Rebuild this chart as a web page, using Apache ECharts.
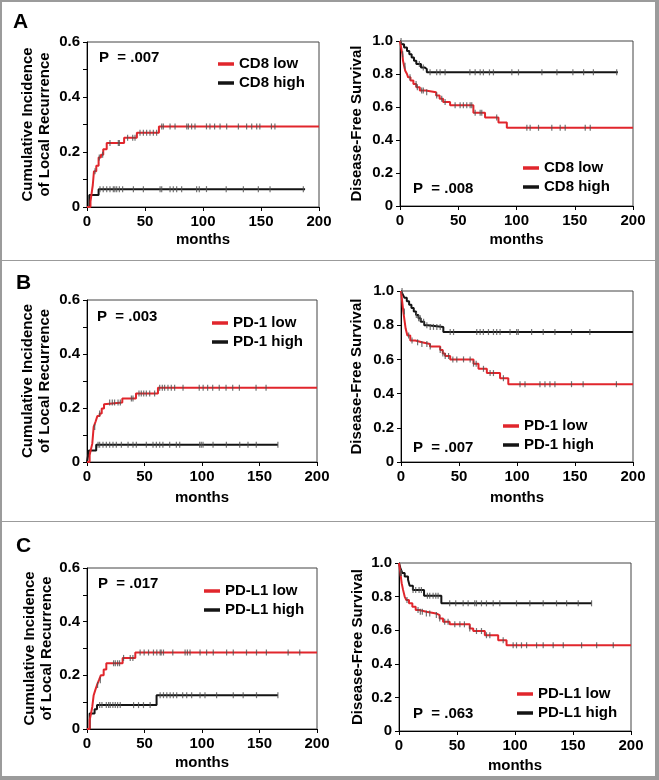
<!DOCTYPE html>
<html><head><meta charset="utf-8">
<script src="https://cdn.jsdelivr.net/npm/echarts@6/dist/echarts.min.js"></script>
<style>html,body{margin:0;padding:0;background:#fff}#c{width:659px;height:780px}</style>
</head><body><div id="c"></div>
<script>
// ---------------- DATA ----------------
// Panel A (CD8) – cumulative incidence of local recurrence
const aLowT  = [0, 3, 4, 5, 6, 8, 10, 12, 14, 17, 32, 43, 62, 200];
const aLowV  = [0, 0.02, 0.05, 0.08, 0.13, 0.15, 0.18, 0.19, 0.21, 0.233, 0.252, 0.27, 0.293, 0.293];
const aHighT = [0, 2, 10, 188];
const aHighV = [0, 0.044, 0.065, 0.065];
const aLowC  = [6.9, 10.6, 13.5, 19.8, 27, 27.9, 35, 39.4, 41.4, 45.7, 48.6, 51.4, 54.3, 57.2, 60, 64.4, 65.8, 71.6, 75.9, 86, 87.4, 90.2, 93.1, 103, 106, 110, 114.7, 120.4, 130.5, 137.6, 142, 146.3, 149, 159, 162];
const aHighC = [11.2, 14, 17, 19.8, 22.7, 24, 25.6, 27.9, 30.7, 40, 48.6, 63, 64.4, 71.6, 74.4, 77.3, 81.6, 94.5, 96.8, 103, 120, 134.8, 147.7, 157.8, 186.5];
// Panel A (CD8) – disease-free survival
const arLowT  = [0, 1, 2, 2.6, 3.5, 4.5, 6, 7, 9, 11.5, 14, 17, 22, 31, 34, 37, 43, 63, 73, 84.5, 91.7, 200];
const arLowV  = [1, 0.96, 0.92, 0.88, 0.85, 0.82, 0.80, 0.78, 0.76, 0.74, 0.72, 0.70, 0.69, 0.67, 0.65, 0.63, 0.61, 0.565, 0.536, 0.506, 0.474, 0.474];
const arHighT = [0, 1.5, 3.5, 6, 8, 10, 12, 14, 18, 21, 23, 187];
const arHighV = [1, 0.98, 0.96, 0.94, 0.92, 0.90, 0.88, 0.86, 0.84, 0.83, 0.81, 0.81];
const arLowC  = [0.9, 2.3, 4.3, 8.6, 13.8, 14.9, 18.6, 20, 22.9, 31.5, 35.8, 38.7, 47.3, 51.6, 54.4, 57.3, 60.2, 61.6, 64.5, 68.8, 70.2, 83, 108.9, 111.7, 118.9, 130.3, 137.5, 141.8, 159, 163.3];
const arHighC = [16.6, 20, 25.8, 31.5, 34.4, 38.7, 60, 64.5, 68.8, 71.6, 76.8, 80.2, 96, 101.7, 121.8, 134.7, 148.4, 157.6, 166, 186];

// Panel B (PD-1)
const bLowT  = [0, 2.3, 3.2, 4.6, 5.8, 7.5, 9, 11, 12.8, 14.8, 16.5, 30.7, 42.6, 61.7, 200];
const bLowV  = [0, 0.025, 0.043, 0.068, 0.13, 0.15, 0.17, 0.18, 0.198, 0.214, 0.22, 0.235, 0.254, 0.275, 0.275];
const bHighT = [0, 1.7, 8, 166];
const bHighV = [0, 0.043, 0.064, 0.064];
const bLowC  = [6.7, 11, 19.7, 22, 24, 27, 29, 38.6, 40, 45.2, 47.2, 49.3, 51.6, 54.5, 58.8, 63.2, 65.5, 67.5, 70.4, 73.3, 76.2, 83.5, 97.6, 101, 104.9, 109.3, 115, 120.9, 126.7, 132.5, 147, 155.7];
const bHighC = [9.6, 11, 13.9, 16.8, 19.7, 22.6, 25.5, 29.9, 35.7, 40, 42.9, 51.6, 57.4, 60.3, 63.2, 66, 71.9, 77.7, 80.6, 98, 99.4, 100.9, 109.6, 121.2, 132.8, 140, 147.2, 166];
const brLowT  = [0, 1, 2, 3, 4, 5.5, 8, 12.3, 18, 25, 33.8, 36, 38, 42.4, 62.5, 66.8, 74, 85.4, 92.5, 200];
const brLowV  = [1, 0.94, 0.88, 0.83, 0.78, 0.74, 0.71, 0.70, 0.69, 0.675, 0.655, 0.635, 0.62, 0.60, 0.575, 0.545, 0.52, 0.49, 0.455, 0.455];
const brHighT = [0, 1.5, 3, 5, 7, 9, 11, 13, 15, 17, 20, 23, 36.5, 200];
const brHighV = [1, 0.98, 0.96, 0.94, 0.92, 0.90, 0.88, 0.86, 0.84, 0.82, 0.80, 0.79, 0.76, 0.76];
const brLowC  = [0.9, 2.9, 6.6, 9.5, 14.3, 18, 22.3, 25.2, 33.8, 36.1, 38.1, 41, 44.7, 48.1, 53.9, 59.6, 62.5, 64.8, 71.1, 76.8, 79.7, 88.3, 102.6, 106.9, 119.8, 124.1, 128.4, 132.7, 147, 157, 185.7];
const brHighC = [13.2, 15.2, 16.6, 19.5, 22.3, 25.2, 28, 30.9, 33.8, 42.4, 45.3, 65.3, 68.2, 71, 75.4, 79.7, 82.5, 85.4, 94, 99.7, 101.1, 112.6, 122.6, 132.7, 147, 162.8];

// Panel C (PD-L1)
const cLowT  = [0, 2.3, 3.5, 4.6, 5.8, 7.2, 8.7, 10.4, 12, 14.5, 16.8, 31, 42, 200];
const cLowV  = [0, 0.033, 0.058, 0.083, 0.126, 0.145, 0.164, 0.182, 0.20, 0.222, 0.245, 0.265, 0.285, 0.285];
const cHighT = [0, 2.3, 6.6, 8.7, 60.5, 166];
const cHighV = [0, 0.058, 0.074, 0.089, 0.126, 0.126];
const cLowC  = [9.2, 11.6, 23.1, 24.6, 26.6, 28.3, 31.8, 37.6, 39.9, 46.2, 49.7, 53.5, 57.8, 60.7, 63.6, 64.5, 66.5, 74.6, 85.3, 87.3, 89.6, 98.3, 104, 109.8, 121.4, 127.2, 138.7, 147.4, 156, 174.9, 185];
const cHighC = [11, 13, 16.8, 18.8, 20.2, 22.5, 24.6, 26.6, 28.9, 40.5, 44.8, 49.1, 54.9, 63.6, 66.5, 69.4, 72.3, 75.1, 78, 83.2, 86.7, 91, 98.3, 102.6, 112.7, 127.2, 135.8, 147.4, 166];
const crLowT  = [0, 1.2, 2.3, 3.5, 4.9, 6.3, 8.6, 11.5, 14.4, 17.3, 23.6, 32, 35, 38, 43.7, 61, 64, 74, 85.5, 92.7, 200];
const crLowV  = [1, 0.94, 0.88, 0.84, 0.80, 0.78, 0.76, 0.74, 0.72, 0.71, 0.70, 0.69, 0.67, 0.65, 0.635, 0.61, 0.595, 0.57, 0.54, 0.51, 0.51];
const crHighT = [0, 1.2, 2.9, 4.9, 7.8, 9.2, 12, 21.6, 36.5, 166];
const crHighV = [1, 0.97, 0.94, 0.92, 0.90, 0.865, 0.84, 0.805, 0.76, 0.76];
const crLowC  = [1.2, 2, 6.9, 16.4, 18.4, 20.1, 23.6, 26.5, 32.2, 35.1, 39.4, 42.3, 48.1, 52.5, 56.4, 61, 66.8, 71.1, 75.4, 78.3, 89.8, 98.4, 101.3, 105.6, 110, 118.6, 124.3, 132.9, 141.6, 157.4, 170.4, 184.7];
const crHighC = [12.1, 14.4, 17.3, 19.3, 24.5, 26.5, 29.4, 31.7, 33.7, 43.7, 48.9, 55.3, 59.6, 65.3, 66.8, 71.1, 75.4, 81.2, 86.9, 101.3, 112.8, 124.3, 135.8, 144.5, 154.5, 166];

const groupNames = [['CD8 low', 'CD8 high'], ['PD-1 low', 'PD-1 high'], ['PD-L1 low', 'PD-L1 high']];
const pValuesCIF = ['P  = .007', 'P  = .003', 'P  = .017'];
const pValuesDFS = ['P  = .008', 'P  = .007', 'P  = .063'];
const panelLetters = ['A', 'B', 'C'];
const xTicks = [0, 50, 100, 150, 200];
const cifTitle = 'Cumulative Incidence\nof Local Recurrence';
const dfsTitle = 'Disease-Free Survival';
const xTitle = 'months';

// ---------------- LAYOUT ----------------
const FONT = '"Liberation Sans", Arial, sans-serif';
const RED = '#e1262c', BLACK = '#141414', CENS = '#505050', FRAME = '#9b9b9b';

const panels = [
  {lt: aLowT, lv: aLowV, ht: aHighT, hv: aHighV, lc: aLowC, hc: aHighC, g: 0, kind: 'cif',
   grid: {left: 87, top: 42, width: 232, height: 165}, legend: {left: 218, top: 56}, p: [99, 58], yGap: 34, xGap: 25},
  {lt: arLowT, lv: arLowV, ht: arHighT, hv: arHighV, lc: arLowC, hc: arHighC, g: 0, kind: 'dfs',
   grid: {left: 400, top: 41, width: 233, height: 165}, legend: {left: 523, top: 160}, p: [413, 189], yGap: 35, xGap: 26},
  {lt: bLowT, lv: bLowV, ht: bHighT, hv: bHighV, lc: bLowC, hc: bHighC, g: 1, kind: 'cif',
   grid: {left: 87, top: 300, width: 230, height: 162}, legend: {left: 212, top: 315}, p: [97, 317], yGap: 34, xGap: 28},
  {lt: brLowT, lv: brLowV, ht: brHighT, hv: brHighV, lc: brLowC, hc: brHighC, g: 1, kind: 'dfs',
   grid: {left: 401, top: 291, width: 232, height: 171}, legend: {left: 503, top: 418}, p: [413, 448], yGap: 36, xGap: 28},
  {lt: cLowT, lv: cLowV, ht: cHighT, hv: cHighV, lc: cLowC, hc: cHighC, g: 2, kind: 'cif',
   grid: {left: 87, top: 568, width: 230, height: 161}, legend: {left: 204, top: 583}, p: [98, 584], yGap: 32, xGap: 26},
  {lt: crLowT, lv: crLowV, ht: crHighT, hv: crHighV, lc: crLowC, hc: crHighC, g: 2, kind: 'dfs',
   grid: {left: 399, top: 563, width: 232, height: 168}, legend: {left: 517, top: 686}, p: [413, 714], yGap: 33, xGap: 27}
];
const letterPos = [[13, 22], [16, 283], [16, 546]];

function stepAt(T, V, t) {
  let v = V[0];
  for (let i = 0; i < T.length; i++) { if (T[i] <= t) v = V[i]; }
  return v;
}
const zip = (T, V) => T.map((t, i) => [t, V[i]]);
const txt = {color: '#000', fontFamily: FONT, fontWeight: 'bold', fontSize: 15};

const grids = [], xAxes = [], yAxes = [], series = [], legends = [];
panels.forEach((P, i) => {
  const names = groupNames[P.g];
  grids.push(Object.assign({show: true, borderColor: '#444', borderWidth: 1, backgroundColor: 'transparent'}, P.grid));
  xAxes.push({
    type: 'value', gridIndex: i, min: 0, max: 200, interval: 50,
    name: xTitle, nameLocation: 'middle', nameGap: P.xGap, nameTextStyle: txt,
    axisLine: {lineStyle: {color: '#000', width: 1}},
    axisTick: {show: true, inside: false, length: 4, lineStyle: {color: '#000'}},
    axisLabel: Object.assign({margin: 7}, txt),
    splitLine: {show: false}
  });
  const cif = P.kind === 'cif';
  yAxes.push({
    type: 'value', gridIndex: i, min: 0, max: cif ? 0.6 : 1, interval: cif ? 0.1 : 0.2,
    name: cif ? cifTitle : dfsTitle, nameLocation: 'middle', nameRotate: 90, nameGap: P.yGap,
    nameTextStyle: Object.assign({lineHeight: 17}, txt),
    axisLine: {show: true, lineStyle: {color: '#000', width: 1}},
    axisTick: {show: true, inside: false, length: 4, lineStyle: {color: '#000'}},
    axisLabel: Object.assign({margin: 7, formatter: v => {
      const k = Math.round(v * 10);
      if (cif && k % 2) return '';
      return k === 0 ? '0' : (k / 10).toFixed(1);
    }}, txt),
    splitLine: {show: false}
  });
  const mk = (name, T, V, color) => ({
    name, type: 'line', step: 'end', xAxisIndex: i, yAxisIndex: i, data: zip(T, V),
    showSymbol: false, symbol: 'none', color, lineStyle: {color, width: 2}, animation: false, z: 3
  });
  const cens = (name, C, T, V) => ({
    name, type: 'scatter', xAxisIndex: i, yAxisIndex: i, data: C.map(t => [t, stepAt(T, V, t)]),
    symbol: 'rect', symbolSize: [1.2, 6], itemStyle: {color: CENS}, animation: false, z: 4, silent: true
  });
  series.push(mk(names[1], P.ht, P.hv, BLACK));
  series.push(mk(names[0], P.lt, P.lv, RED));
  series.push(cens(names[1] + ' censored', P.hc, P.ht, P.hv));
  series.push(cens(names[0] + ' censored', P.lc, P.lt, P.lv));
  legends.push({
    left: P.legend.left, top: P.legend.top, orient: 'vertical', padding: 0,
    itemWidth: 16, itemHeight: 3.5, itemGap: 3, icon: 'rect', selectedMode: false,
    data: [names[0], names[1]],
    textStyle: Object.assign({lineHeight: 16}, txt)
  });
});

const graphics = [
  {type: 'rect', z: -100, shape: {x: 0, y: 0, width: 659, height: 780}, style: {fill: FRAME}},
  {type: 'rect', z: -99, shape: {x: 2, y: 2, width: 653, height: 774}, style: {fill: '#fff'}},
  {type: 'line', z: -98, shape: {x1: 2, y1: 260.5, x2: 655, y2: 260.5}, style: {stroke: FRAME, lineWidth: 1.2}},
  {type: 'line', z: -98, shape: {x1: 2, y1: 521.5, x2: 655, y2: 521.5}, style: {stroke: FRAME, lineWidth: 1.2}}
];
panelLetters.forEach((L, k) => graphics.push({
  type: 'text', x: letterPos[k][0], y: letterPos[k][1],
  style: {text: L, fill: '#000', fontFamily: 'Liberation Sans, Arial, sans-serif', fontWeight: 'bold', fontSize: 21,
          align: 'left', verticalAlign: 'middle', textAlign: 'left', textVerticalAlign: 'middle'}
}));
panels.forEach((P, i) => {
  const label = P.kind === 'cif' ? pValuesCIF[P.g] : pValuesDFS[P.g];
  graphics.push({
    type: 'text', x: P.p[0], y: P.p[1],
    style: {text: label, fill: '#000', fontFamily: 'Liberation Sans, Arial, sans-serif', fontWeight: 'bold', fontSize: 15,
            align: 'left', verticalAlign: 'middle', textAlign: 'left', textVerticalAlign: 'middle'}
  });
});

const chart = echarts.init(document.getElementById('c'), null, {renderer: 'canvas'});
chart.setOption({
  animation: false,
  backgroundColor: '#fff',
  grid: grids, xAxis: xAxes, yAxis: yAxes, series, legend: legends,
  graphic: {elements: graphics}
});
</script></body></html>
